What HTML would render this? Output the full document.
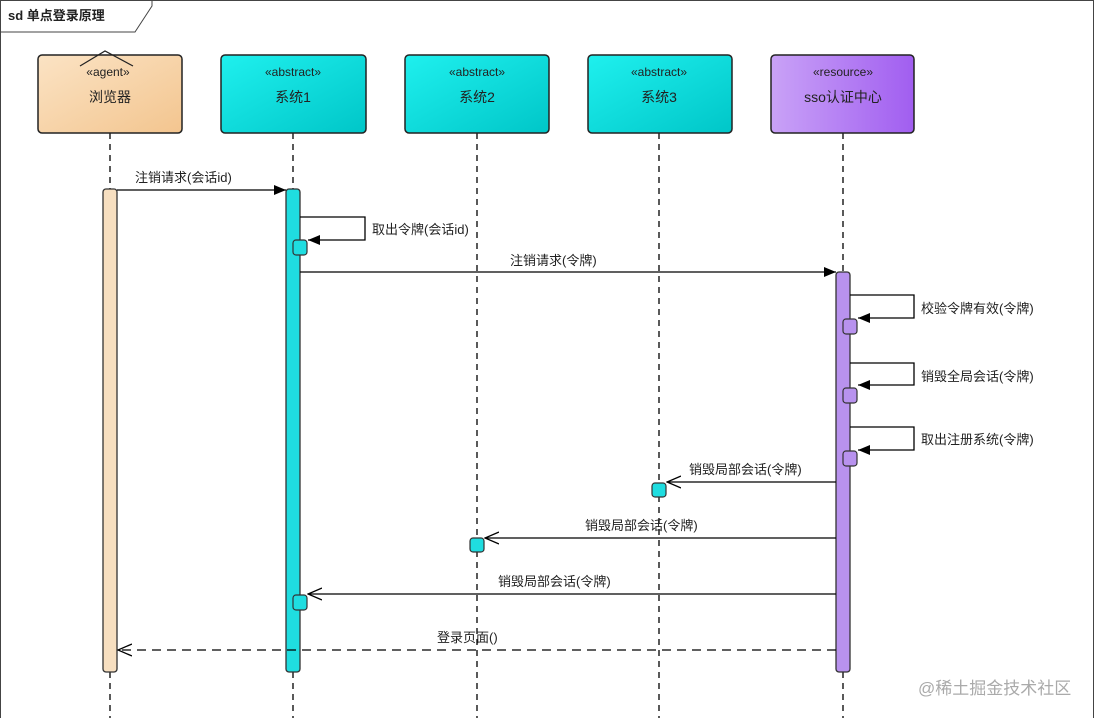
<!DOCTYPE html>
<html><head><meta charset="utf-8"><style>
body{margin:0;background:#fff}
svg text{font-family:"Liberation Sans","Noto Sans CJK SC",sans-serif;font-size:13px;fill:#222}
</style></head><body>
<svg width="1100" height="718" xmlns="http://www.w3.org/2000/svg">
<defs>
<linearGradient id="gb" x1="0" y1="0" x2="1" y2="1"><stop offset="0" stop-color="#fbe3c4"/><stop offset="1" stop-color="#f3c58f"/></linearGradient>
<linearGradient id="gc" x1="0" y1="0" x2="1" y2="1"><stop offset="0" stop-color="#1ff0ee"/><stop offset="1" stop-color="#00c6c8"/></linearGradient>
<linearGradient id="gp" x1="0" y1="0" x2="1" y2="0"><stop offset="0" stop-color="#c9a2f7"/><stop offset="1" stop-color="#a15ef0"/></linearGradient>
<marker id="af" markerWidth="12" markerHeight="10" refX="12" refY="5" orient="auto" markerUnits="userSpaceOnUse"><path d="M0,0 L12,5 L0,10 Z" fill="#000"/></marker>
<marker id="ao" markerWidth="15" markerHeight="13" refX="14" refY="6.5" orient="auto" markerUnits="userSpaceOnUse"><path d="M0,0.5 L14,6.5 L0,12.5" fill="none" stroke="#000" stroke-width="1.3"/></marker>
</defs>
<rect x="0.5" y="0.5" width="1093" height="720" fill="#fff" stroke="#444"/>
<path d="M0.5,32 L135,32 L152,6 L152,0.5" fill="none" stroke="#444"/>
<text x="8" y="20" style="font-size:13px;font-weight:bold">sd 单点登录原理</text>
<g stroke="#000" stroke-width="1.3" stroke-dasharray="6,5">
<line x1="110" y1="133" x2="110" y2="718"/><line x1="293" y1="133" x2="293" y2="718"/>
<line x1="477" y1="133" x2="477" y2="718"/><line x1="659" y1="133" x2="659" y2="718"/>
<line x1="843" y1="133" x2="843" y2="718"/>
</g>
<g stroke="#222" stroke-width="1.5">
<rect x="38" y="55" width="144" height="78" rx="4" fill="url(#gb)"/>
<rect x="221" y="55" width="145" height="78" rx="4" fill="url(#gc)"/>
<rect x="405" y="55" width="144" height="78" rx="4" fill="url(#gc)"/>
<rect x="588" y="55" width="144" height="78" rx="4" fill="url(#gc)"/>
<rect x="771" y="55" width="143" height="78" rx="4" fill="url(#gp)"/>
</g>
<path d="M80,66 L105,51 L133,66" fill="none" stroke="#222" stroke-width="1.2"/>
<g text-anchor="middle">
<text x="108" y="76" style="font-size:12px">«agent»</text><text x="110" y="102" style="font-size:14px">浏览器</text>
<text x="293" y="76" style="font-size:12px">«abstract»</text><text x="293" y="102" style="font-size:14px">系统1</text>
<text x="477" y="76" style="font-size:12px">«abstract»</text><text x="477" y="102" style="font-size:14px">系统2</text>
<text x="659" y="76" style="font-size:12px">«abstract»</text><text x="659" y="102" style="font-size:14px">系统3</text>
<text x="843" y="76" style="font-size:12px">«resource»</text><text x="843" y="102" style="font-size:14px">sso认证中心</text>
</g>
<g stroke="#333" stroke-width="1.3">
<rect x="103" y="189" width="14" height="483" rx="3" fill="#f7dfc0"/>
<rect x="286" y="189" width="14" height="483" rx="3" fill="#1fdde0"/>
<rect x="836" y="272" width="14" height="400" rx="3" fill="#b892ee"/>
</g>
<g stroke="#000" stroke-width="1.3" fill="none">
<line x1="117" y1="190" x2="286" y2="190" marker-end="url(#af)"/>
<polyline points="300,217 365,217 365,240 308,240" marker-end="url(#af)"/>
<line x1="300" y1="272" x2="836" y2="272" marker-end="url(#af)"/>
<polyline points="850,295 914,295 914,318 858,318" marker-end="url(#af)"/>
<polyline points="850,363 914,363 914,385 858,385" marker-end="url(#af)"/>
<polyline points="850,427 914,427 914,450 858,450" marker-end="url(#af)"/>
<line x1="836" y1="482" x2="667" y2="482" marker-end="url(#ao)"/>
<line x1="836" y1="538" x2="485" y2="538" marker-end="url(#ao)"/>
<line x1="836" y1="594" x2="308" y2="594" marker-end="url(#ao)"/>
<line x1="836" y1="650" x2="118" y2="650" stroke-dasharray="9,6" marker-end="url(#ao)"/>
</g>
<g stroke="#333" stroke-width="1.2">
<rect x="293" y="240" width="14" height="15" rx="3" fill="#1fdde0"/>
<rect x="293" y="595" width="14" height="15" rx="3" fill="#1fdde0"/>
<rect x="843" y="319" width="14" height="15" rx="3" fill="#b892ee"/>
<rect x="843" y="388" width="14" height="15" rx="3" fill="#b892ee"/>
<rect x="843" y="451" width="14" height="15" rx="3" fill="#b892ee"/>
<rect x="652" y="483" width="14" height="14" rx="3" fill="#1fdde0"/>
<rect x="470" y="538" width="14" height="14" rx="3" fill="#1fdde0"/>
</g>
<text x="135" y="182">注销请求(会话id)</text>
<text x="372" y="234">取出令牌(会话id)</text>
<text x="510" y="265">注销请求(令牌)</text>
<text x="921" y="313">校验令牌有效(令牌)</text>
<text x="921" y="381">销毁全局会话(令牌)</text>
<text x="921" y="444">取出注册系统(令牌)</text>
<text x="689" y="474">销毁局部会话(令牌)</text>
<text x="585" y="530">销毁局部会话(令牌)</text>
<text x="498" y="586">销毁局部会话(令牌)</text>
<text x="437" y="642">登录页面()</text>
<text x="918" y="694" style="font-size:17px;fill:#aaa">@稀土掘金技术社区</text>
</svg>
</body></html>
